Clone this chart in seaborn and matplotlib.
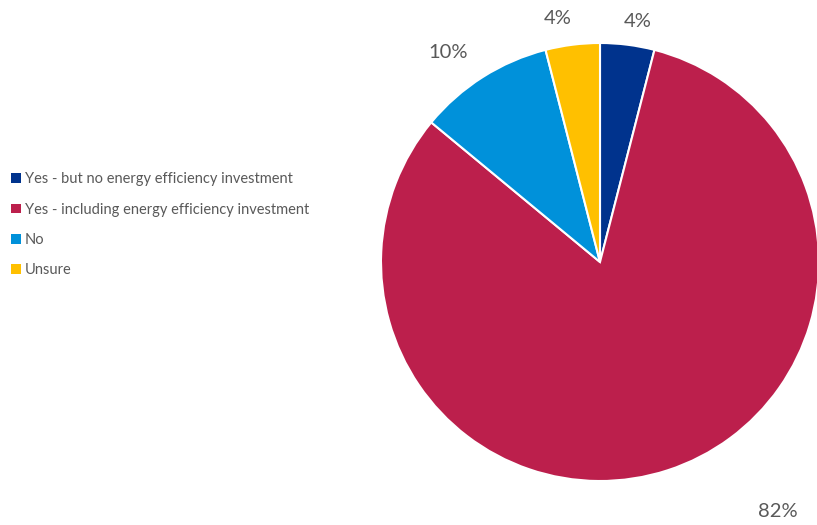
import matplotlib
matplotlib.use("Agg")
import matplotlib.pyplot as plt
import seaborn as sns
import numpy as np
from matplotlib.patches import Patch

categories = [
    "Yes - but no energy efficiency investment",
    "Yes - including energy efficiency investment",
    "No",
    "Unsure",
]
shares = [4, 82, 10, 4]
pct_labels = ["4%", "82%", "10%", "4%"]
colors = ["#00338D", "#BC1F4C", "#0091DA", "#FFC000"]

# label placement around the pie: (angle offset in degrees, radial distance)
label_offsets = [(-1.8, 1.11), (17.5, 1.40), (3.5, 1.18), (2.6, 1.13)]

sns.set_theme(style="white")
plt.rcParams["font.family"] = ["Lato", "DejaVu Sans"]
text_color = "#595959"

W, H = 817, 525
fig = plt.figure(figsize=(W / 100, H / 100), dpi=100)
cx, cy, r = 600, 262, 219
ax = fig.add_axes([(cx - r) / W, (H - cy - r) / H, 2 * r / W, 2 * r / H])

palette = sns.color_palette(colors)
wedges, _ = ax.pie(
    shares,
    colors=palette,
    startangle=90,
    counterclock=False,
    radius=1.0,
    wedgeprops=dict(edgecolor="white", linewidth=1.5),
)
ax.set_xlim(-1, 1)
ax.set_ylim(-1, 1)
ax.set_aspect("equal")
ax.axis("off")

for w, lab, (dang, dist) in zip(wedges, pct_labels, label_offsets):
    mid = np.deg2rad((w.theta1 + w.theta2) / 2 + dang)
    ax.text(dist * np.cos(mid), dist * np.sin(mid), lab,
            ha="center", va="center", fontsize=14.5, color=text_color,
            clip_on=False)

handles = [Patch(facecolor=c, edgecolor="none") for c in palette]
fig.legend(handles, categories, loc="upper left",
           bbox_to_anchor=(1 / W, 1 - 162 / H), frameon=False,
           fontsize=10.5, labelcolor=text_color,
           handlelength=0.65, handleheight=0.65, handletextpad=0.3,
           labelspacing=1.12, borderpad=0.2)

fig.savefig("out.png", dpi=100)
